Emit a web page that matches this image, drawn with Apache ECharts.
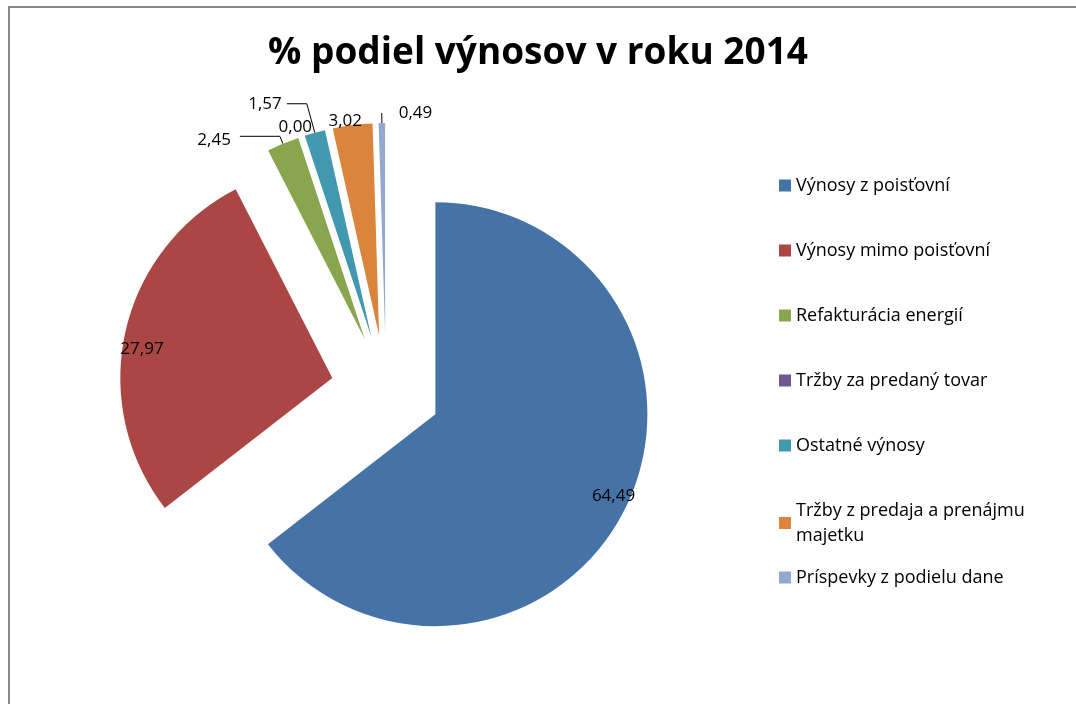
<!DOCTYPE html>
<html>
<head>
<meta charset="utf-8">
<title>% podiel výnosov v roku 2014</title>
<script src="https://cdn.jsdelivr.net/npm/echarts@6/dist/echarts.min.js"></script>
<style>
  html, body { margin: 0; padding: 0; background: #fff; }
  #chart { width: 1076px; height: 704px; }
</style>
</head>
<body>
<div id="chart"></div>
<script>
// data
var categories = [
  'Výnosy z poisťovní',
  'Výnosy mimo poisťovní',
  'Refakturácia energií',
  'Tržby za predaný tovar',
  'Ostatné výnosy',
  'Tržby z predaja a prenájmu majetku',
  'Príspevky z podielu dane'
];
var values = [64.49, 27.97, 2.45, 0.00, 1.57, 3.02, 0.49];
var colors = ['#4572A7', '#AA4643', '#89A54E', '#71588F', '#4198AF', '#DB843D', '#93A9CF'];
var bigLabels = [0, 1]; // labels drawn inside the slice

var myChart = echarts.init(document.getElementById('chart'));

function fmt(v) {
  return v.toFixed(2).replace('.', ',');
}

// leader line tweaks for the small slices (index -> settings)
var lineTweak = {
  2: { length: 8, length2: 40, show: true },
  3: { length: 10, length2: 0, show: false },
  4: { length: 30, length2: 20, show: true },
  5: { length: 4, length2: 0, show: false },
  6: { length: 10, length2: 0, show: true }
};
// extra nudges applied after the library lays the labels out
var labelNudge = {
  2: { dx: -4, dy: 4 },
  3: { dx: 18 },
  5: { dx: 15 },
  6: { dx: 22, align: 'left' }
};
var innerNudge = {
  0: { dx: 3, dy: -4 },
  1: { dy: 13 }
};

var mainData = categories.map(function (name, i) {
  var t = lineTweak[i];
  return {
    name: name,
    value: values[i],
    selected: true,
    itemStyle: { color: colors[i] },
    label: { show: bigLabels.indexOf(i) < 0 },
    labelLine: t ? { show: t.show, length: t.length, length2: t.length2 } : { show: false }
  };
});

// transparent ring used only to put the big labels near the rim
var ringData = categories.map(function (name, i) {
  return {
    name: name,
    value: values[i],
    selected: true,
    itemStyle: { color: 'rgba(0,0,0,0)' },
    label: { show: bigLabels.indexOf(i) >= 0 }
  };
});

var legendNames = categories.slice(0, 6);
var legendText = { fontFamily: 'Open Sans', fontSize: 18, lineHeight: 25, color: '#000' };

const option = {
  animation: false,
  title: {
    text: '% podiel výnosov v roku 2014',
    left: 'center',
    top: 30,
    textStyle: {
      fontFamily: 'Open Sans',
      fontSize: 37,
      fontWeight: 'bold',
      color: '#000'
    }
  },
  graphic: [{
    type: 'rect',
    shape: { x: 9, y: 7, width: 1200, height: 900 },
    style: { fill: 'none', stroke: '#868686', lineWidth: 2 },
    silent: true
  }],
  legend: [{
    orient: 'vertical',
    left: 774,
    top: 168,
    icon: 'rect',
    itemWidth: 12,
    itemHeight: 12,
    itemGap: 40,
    selectedMode: false,
    data: legendNames,
    formatter: function (name) {
      return name.replace('prenájmu majetku', 'prenájmu\nmajetku');
    },
    textStyle: legendText
  }, {
    orient: 'vertical',
    left: 774,
    top: 560,
    icon: 'rect',
    itemWidth: 12,
    itemHeight: 12,
    selectedMode: false,
    data: [categories[6]],
    textStyle: legendText
  }],
  series: [
    {
      name: 'výnosy',
      type: 'pie',
      center: [386, 390],
      radius: [0, 212],
      startAngle: 90,
      clockwise: true,
      selectedMode: 'multiple',
      selectedOffset: 55,
      avoidLabelOverlap: false,
      silent: true,
      itemStyle: { borderWidth: 0 },
      label: {
        position: 'outside',
        fontFamily: 'Open Sans',
        fontSize: 17,
        color: '#000',
        formatter: function (p) { return fmt(p.value); }
      },
      labelLine: {
        lineStyle: { color: '#000', width: 1 }
      },
      labelLayout: function (p) {
        return labelNudge[p.dataIndex] || {};
      },
      emphasis: { disabled: true },
      data: mainData
    },
    {
      name: 'labels',
      type: 'pie',
      center: [386, 390],
      radius: [172, 212],
      startAngle: 90,
      clockwise: true,
      selectedMode: 'multiple',
      selectedOffset: 55,
      silent: true,
      itemStyle: { borderWidth: 0 },
      label: {
        position: 'inside',
        fontFamily: 'Open Sans',
        fontSize: 17,
        color: '#000',
        formatter: function (p) { return fmt(p.value); }
      },
      labelLine: { show: false },
      labelLayout: function (p) {
        return innerNudge[p.dataIndex] || {};
      },
      emphasis: { disabled: true },
      data: ringData
    }
  ]
};

myChart.setOption(option);
</script>
</body>
</html>
